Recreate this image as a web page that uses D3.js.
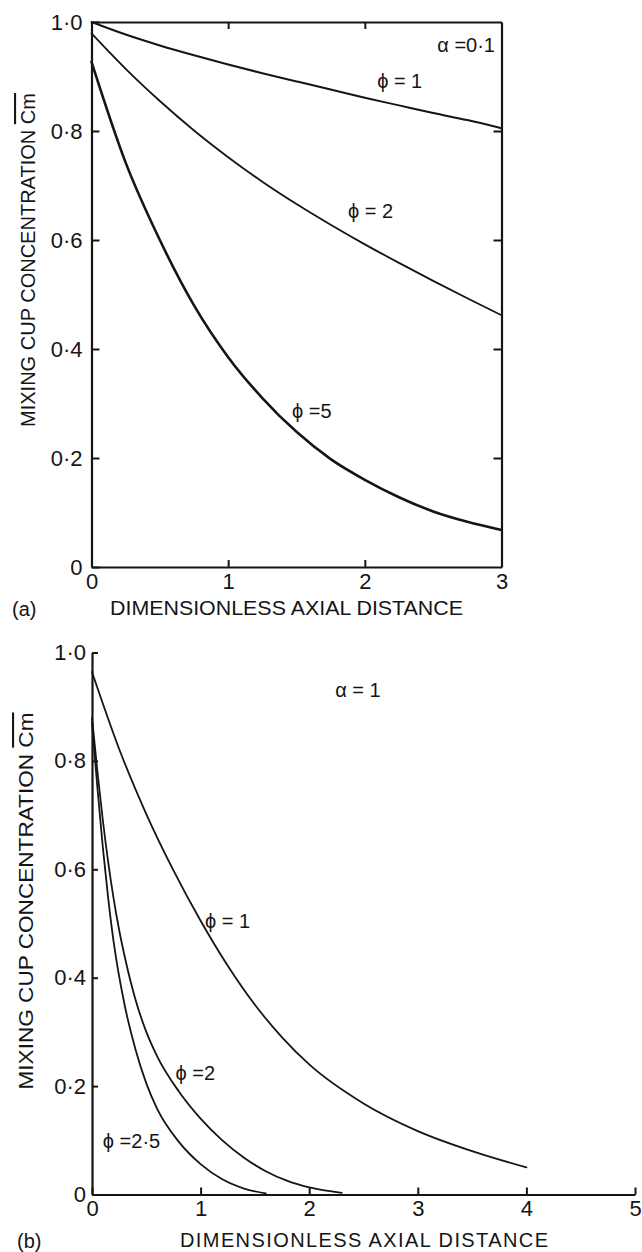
<!DOCTYPE html>
<html>
<head>
<meta charset="utf-8">
<script src="https://cdnjs.cloudflare.com/ajax/libs/d3/7.8.5/d3.min.js"></script>
<style>
body { margin: 0; background: #fff; }
svg { display: block; }
text { font-family: "Liberation Sans", "DejaVu Sans", Arial, sans-serif; fill: #151515; }
</style>
</head>
<body>
<svg id="chart" width="642" height="1252"></svg>
<script>
//panel (a) - alpha = 0.1, axial distance 0..3
var xA = [0, 0.25, 0.5, 0.75, 1, 1.25, 1.5, 1.75, 2, 2.25, 2.5, 2.75, 3];
var a_phi1 = [1.0, 0.977, 0.957, 0.939, 0.922, 0.906, 0.891, 0.876, 0.861, 0.847, 0.833, 0.82, 0.805];
var a_phi2 = [0.979, 0.914, 0.855, 0.801, 0.752, 0.707, 0.666, 0.628, 0.592, 0.558, 0.525, 0.493, 0.462];
var a_phi5 = [0.927, 0.742, 0.60, 0.48, 0.385, 0.31, 0.248, 0.198, 0.16, 0.128, 0.102, 0.083, 0.068];

//panel (b) - alpha = 1, axial distance 0..5
var xB_phi1 = [0, 0.25, 0.5, 0.75, 1, 1.25, 1.5, 1.75, 2, 2.5, 3, 3.5, 4];
var b_phi1 = [0.964, 0.822, 0.702, 0.598, 0.505, 0.422, 0.35, 0.29, 0.24, 0.168, 0.117, 0.08, 0.05];
var xB_phi2 = [0, 0.05, 0.1, 0.15, 0.2, 0.25, 0.3, 0.4, 0.5, 0.6, 0.8, 1.0, 1.2, 1.4, 1.6, 1.8, 2.0, 2.3];
var b_phi2 = [0.88, 0.78, 0.69, 0.612, 0.545, 0.488, 0.44, 0.36, 0.30, 0.255, 0.19, 0.14, 0.10, 0.068, 0.043, 0.025, 0.013, 0.003];
var xB_phi25 = [0, 0.05, 0.1, 0.15, 0.2, 0.3, 0.4, 0.5, 0.6, 0.8, 1.0, 1.2, 1.4, 1.6];
var b_phi25 = [0.87, 0.75, 0.64, 0.545, 0.465, 0.35, 0.268, 0.205, 0.158, 0.097, 0.056, 0.028, 0.011, 0.002];

//tick values
var yTicks = [0, 0.2, 0.4, 0.6, 0.8, 1.0];
var xTicksA = [0, 1, 2, 3];
var xTicksB = [0, 1, 2, 3, 4, 5];

//texts
var yTitle = "MIXING  CUP  CONCENTRATION  ";
var yTitleSym = "Cm";
var xTitle = "DIMENSIONLESS AXIAL DISTANCE";
var labelsA = [
    {t: "\u03d5 = 1", x: 2.09, y: 0.879},
    {t: "\u03d5 = 2", x: 1.877, y: 0.64},
    {t: "\u03d5 =5", x: 1.467, y: 0.273},
    {t: "\u03b1 =0\u00b71", x: 2.53, y: 0.945}
];
var labelsB = [
    {t: "\u03b1 = 1", x: 2.24, y: 0.918},
    {t: "\u03d5  = 1", x: 1.04, y: 0.491},
    {t: "\u03d5 =2", x: 0.77, y: 0.211},
    {t: "\u03d5 =2\u00b75", x: 0.10, y: 0.085}
];

var ink = "#151515";
var svg = d3.select('#chart');
svg.append("rect").attr("width", 642).attr("height", 1252).attr("fill", "#fff");

//y labels use a middle dot like the original print
function yFmt(d) { return d === 0 ? "0" : d3.format(".1f")(d).replace(".", "\u00b7"); }

function styleAxis(g) {
    g.attr("font-family", null).attr("font-size", 22);
    g.selectAll("path.domain").attr("stroke", ink).attr("stroke-width", 2.2);
    g.selectAll(".tick line").attr("stroke", ink).attr("stroke-width", 2);
    g.selectAll(".tick text").attr("fill", ink);
}

function drawCurve(xs, ys, x, y, w) {
    var line = d3.line().x(d => x(d[0])).y(d => y(d[1])).curve(d3.curveMonotoneX);
    svg.append("path").datum(d3.zip(xs, ys))
        .attr("d", line).attr("fill", "none")
        .attr("stroke", ink).attr("stroke-width", w)
        .attr("stroke-linecap", "round");
}

function yAxisTitle(cx, cy, len) {
    var t = svg.append("text")
        .attr("transform", "translate(" + cx + "," + cy + ") rotate(-90)")
        .attr("text-anchor", "middle").attr("font-size", 21)
        .attr("textLength", len).attr("lengthAdjust", "spacingAndGlyphs");
    t.append("tspan").text(yTitle);
    t.append("tspan").style("text-decoration", "overline").text(yTitleSym);
}

//////////////////////////////panel (a)
var xa = d3.scaleLinear().domain([0, 3]).range([91.5, 501.5]);
var ya = d3.scaleLinear().domain([0, 1]).range([567, 22]);

svg.append("g").attr("transform", "translate(91.5,0)")
    .call(d3.axisLeft(ya).tickValues(yTicks).tickFormat(yFmt).tickSize(-8).tickSizeOuter(0).tickPadding(9))
    .call(styleAxis);
svg.append("g").attr("transform", "translate(0,567)")
    .call(d3.axisBottom(xa).tickValues(xTicksA).tickFormat(d3.format("d")).tickSize(-7).tickSizeOuter(0).tickPadding(6))
    .call(styleAxis);
svg.append("g").attr("transform", "translate(501.5,0)")
    .call(d3.axisRight(ya).tickValues([0.2, 0.4, 0.6, 0.8]).tickFormat("").tickSize(-8).tickSizeOuter(0))
    .call(styleAxis);
svg.append("g").attr("transform", "translate(0,22)")
    .call(d3.axisTop(xa).tickValues([1, 2]).tickFormat("").tickSize(-7).tickSizeOuter(0))
    .call(styleAxis);

drawCurve(xA, a_phi1, xa, ya, 2);
drawCurve(xA, a_phi2, xa, ya, 1.8);
drawCurve(xA, a_phi5, xa, ya, 2.6);

svg.selectAll("text.labA").data(labelsA).enter().append("text")
    .attr("x", d => xa(d.x)).attr("y", d => ya(d.y))
    .attr("font-size", 20).text(d => d.t);

yAxisTitle(35, 260, 334);
svg.append("text").attr("x", 110).attr("y", 615).attr("font-size", 21)
    .attr("textLength", 353).attr("lengthAdjust", "spacingAndGlyphs").text(xTitle);
svg.append("text").attr("x", 12).attr("y", 616).attr("font-size", 20).text("(a)");

//////////////////////////////panel (b)
var xb = d3.scaleLinear().domain([0, 5]).range([92, 635]);
var yb = d3.scaleLinear().domain([0, 1]).range([1194.5, 652.5]);

svg.append("g").attr("transform", "translate(92,0)")
    .call(d3.axisLeft(yb).tickValues(yTicks).tickFormat(yFmt).tickSize(-6).tickSizeOuter(0).tickPadding(6))
    .call(styleAxis);
svg.append("g").attr("transform", "translate(0,1194.5)")
    .call(d3.axisBottom(xb).tickValues(xTicksB).tickFormat(d3.format("d")).tickSize(-7).tickSizeOuter(0).tickPadding(6))
    .call(styleAxis);

drawCurve(xB_phi1, b_phi1, xb, yb, 1.8);
drawCurve(xB_phi2, b_phi2, xb, yb, 1.8);
drawCurve(xB_phi25, b_phi25, xb, yb, 1.8);

svg.selectAll("text.labB").data(labelsB).enter().append("text")
    .attr("x", d => xb(d.x)).attr("y", d => yb(d.y))
    .attr("font-size", 20).text(d => d.t);

yAxisTitle(33, 901, 377);
svg.append("text").attr("x", 180).attr("y", 1247).attr("font-size", 20)
    .attr("textLength", 368).attr("lengthAdjust", "spacing").text(xTitle);
svg.append("text").attr("x", 17).attr("y", 1248).attr("font-size", 20).text("(b)");
</script>
</body>
</html>
